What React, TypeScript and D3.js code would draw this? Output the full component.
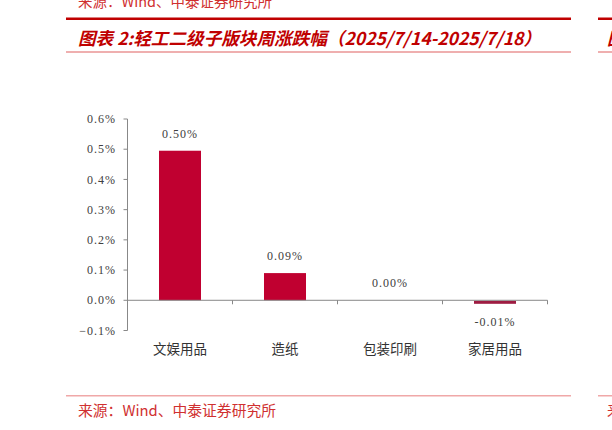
import * as d3 from "d3";

const categories = ["文娱用品", "造纸", "包装印刷", "家居用品"];
const changes = [0.495, 0.09, 0.0, -0.01];
const valueLabels = ["0.50%", "0.09%", "0.00%", "-0.01%"];
const yTicks = [-0.1, 0, 0.1, 0.2, 0.3, 0.4, 0.5, 0.6];

const titleText = "图表 2:轻工二级子版块周涨跌幅（2025/7/14-2025/7/18）";
const sourceText = "来源：Wind、中泰证券研究所";

const W = 612;
const H = 430;
const red = "#c00000";
const barColor = "#c00030";
const cjk = "'Noto Sans CJK SC', 'Noto Sans', sans-serif";
const serif = "'Liberation Serif', 'DejaVu Serif', serif";

export default function App() {
  const x = d3
    .scaleBand<string>()
    .domain(categories)
    .range([127.5, 547.5])
    .paddingInner(0.6)
    .paddingOuter(0.3);
  const y = d3.scaleLinear().domain([-0.1, 0.6]).range([330.5, 119]);
  const step = x.step();
  const left = 127.5;
  const right = 547.5;
  const y0 = y(0);

  return (
    <svg
      width={W}
      height={H}
      style={{ position: "absolute", left: 0, top: 0, background: "#fff" }}
    >
      {/* header remnants from the previous chart */}
      <text x={78} y={7} fontFamily={cjk} fontSize={14.5} fill="#d03030">
        {sourceText}
      </text>
      <rect x={66} y={17.5} width={505} height={2.5} fill={red} />
      <rect x={598} y={17.5} width={20} height={2.5} fill={red} />
      <text
        x={78}
        y={45}
        fontFamily={cjk}
        fontSize={17.6}
        fontWeight="bold"
        fontStyle="italic"
        fill={red}
      >
        {titleText}
      </text>
      <text
        x={607}
        y={45}
        fontFamily={cjk}
        fontSize={17.6}
        fontWeight="bold"
        fontStyle="italic"
        fill={red}
      >
        图
      </text>
      <rect x={66} y={51.5} width={505} height={1} fill="#e06060" />
      <rect x={598} y={51.5} width={20} height={1} fill="#e06060" />

      {/* y axis */}
      <line x1={left} x2={left} y1={y(0.6)} y2={y(-0.1)} stroke="#888" />
      {yTicks.map((t) => (
        <g key={t} transform={`translate(0, ${y(t)})`}>
          <line x1={left - 4} x2={left} stroke="#888" />
          <text
            x={116}
            dy="0.35em"
            textAnchor="end"
            fontFamily={serif}
            fontSize={12}
            letterSpacing={1}
            fill="#404040"
          >
            {d3.format(".1f")(t * 1) + "%"}
          </text>
        </g>
      ))}

      {/* bars */}
      {categories.map((c, i) => {
        const v = changes[i];
        const top = Math.min(y(v), y0);
        const h = Math.abs(y(v) - y0);
        return h > 0 ? (
          <rect
            key={c}
            x={x(c)}
            y={v < 0 ? y0 + 0.5 : top}
            width={x.bandwidth()}
            height={h}
            fill={v < 0 ? "#9e1c42" : barColor}
          />
        ) : null;
      })}

      {/* x axis */}
      <line x1={left} x2={right} y1={y0} y2={y0} stroke="#888" />
      {categories.map((c) => {
        const bx = (x(c) as number) - (step - x.bandwidth()) / 2 + step;
        return <line key={c} x1={bx} x2={bx} y1={y0} y2={y0 + 4} stroke="#888" />;
      })}

      {/* value labels */}
      {categories.map((c, i) => {
        const v = changes[i];
        const cx = (x(c) as number) + x.bandwidth() / 2;
        const ly = v < 0 ? y(v) + 18 : y(v) - 17;
        return (
          <text
            key={c}
            x={cx}
            y={ly}
            dy="0.35em"
            textAnchor="middle"
            fontFamily={serif}
            fontSize={12}
            letterSpacing={1}
            fill="#404040"
          >
            {valueLabels[i]}
          </text>
        );
      })}

      {/* category labels */}
      {categories.map((c) => (
        <text
          key={c}
          x={(x(c) as number) + x.bandwidth() / 2}
          y={349}
          dy="0.35em"
          textAnchor="middle"
          fontFamily={cjk}
          fontSize={13.5}
          fill="#333"
        >
          {c}
        </text>
      ))}

      {/* footer */}
      <rect x={66} y={395} width={505} height={1.5} fill="#f0a8a8" />
      <rect x={598} y={395} width={20} height={1.5} fill="#f0a8a8" />
      <text x={78} y={416} fontFamily={cjk} fontSize={14.8} fill="#d03030">
        {sourceText}
      </text>
      <text x={607} y={416} fontFamily={cjk} fontSize={14.8} fill="#d03030">
        来
      </text>
    </svg>
  );
}
